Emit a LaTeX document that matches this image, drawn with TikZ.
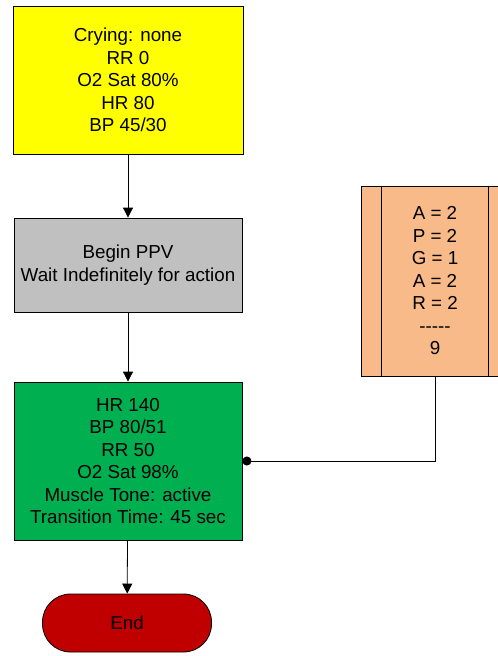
\documentclass[tikz,border=0pt]{standalone}
\usepackage{fontspec}
\setmainfont{Liberation Sans}
\usetikzlibrary{positioning,arrows.meta,calc}

\definecolor{boxyellow}{RGB}{255,255,0}
\definecolor{boxgray}{RGB}{192,192,192}
\definecolor{boxgreen}{RGB}{0,176,80}
\definecolor{boxorange}{RGB}{248,186,136}
\definecolor{boxred}{RGB}{192,0,0}

\begin{document}
\begin{tikzpicture}[
    x=1pt, y=-1pt,
    block/.style={draw, rectangle, line width=0.8pt, minimum width=230pt, align=center, font=\fontsize{18.8}{22.5}\selectfont, inner sep=0pt},
    arrow/.style={-{Triangle[length=10pt, width=10pt]}, line width=0.8pt},
    link/.style={-{Circle[length=9pt]}, line width=0.8pt}
]
\useasboundingbox (0,0) rectangle (498,656);

% --- Estados del paciente ---
\node[block, fill=boxyellow, minimum height=148pt] (inicio) at (128,80) {Crying: none\\RR 0\\O2 Sat 80\%\\HR 80\\BP 45/30};
\node[block, fill=boxgray, minimum width=228pt, minimum height=94pt] (ppv) at (128,265) {Begin PPV\\Wait Indefinitely for action};
\node[block, fill=boxgreen, minimum width=228pt, minimum height=158pt] (result) at (128,461) {HR 140\\BP 80/51\\RR 50\\O2 Sat 98\%\\Muscle Tone: active\\Transition Time: 45 sec};
\node[block, fill=boxred, minimum width=169pt, minimum height=58pt, rounded corners=28pt] (fin) at (127,623) {End};

% --- Puntaje APGAR ---
\node[block, fill=boxorange, minimum width=148pt, minimum height=190pt] (apgar) at (435,281) {A = 2\\P = 2\\G = 1\\A = 2\\R = 2\\{-}{-}{-}{-}{-}\\9};
\draw[line width=0.8pt] ($(apgar.north west)+(21,0)$) -- ($(apgar.south west)+(21,0)$);
\draw[line width=0.8pt] ($(apgar.north east)+(-21,0)$) -- ($(apgar.south east)+(-21,0)$);

% --- Conexiones ---
\draw[arrow] (inicio) -- (ppv);
\draw[arrow] (ppv) -- (result);
\draw[arrow] (result) -- (fin);
\draw[link] (apgar.south) |- (result.east);

\end{tikzpicture}
\end{document}
